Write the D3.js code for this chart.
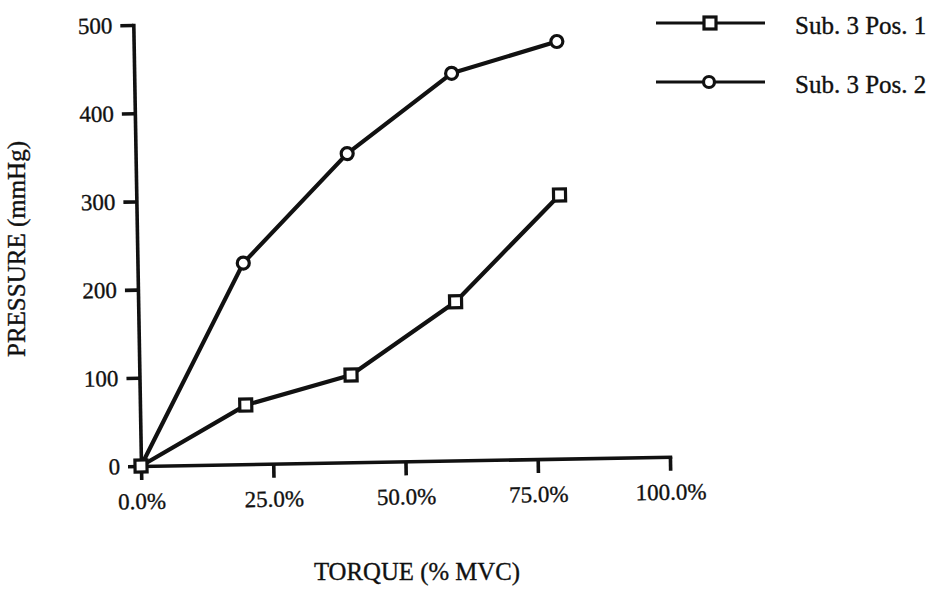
<!DOCTYPE html>
<html>
<head>
<meta charset="utf-8">
<script src="https://cdn.jsdelivr.net/npm/d3@7"></script>
<style>
  html, body { margin: 0; padding: 0; background: #fff; }
  svg { display: block; }
  text { font-family: "Liberation Serif", "Times New Roman", serif; fill: #111; stroke: #111; stroke-width: 0.35px; }
</style>
</head>
<body>
<svg id="chart" width="929" height="591"></svg>
<script>
// Torque (% MVC) at which each pressure reading was taken
const torquePct = [0, 20, 40, 60, 80];
// Pressure readings (mmHg) for each sensor position
const pos1 = [0, 67, 99, 180, 299];
const pos2 = [0, 228, 350, 439, 473];
const seriesNames = ["Sub. 3 Pos. 1", "Sub. 3 Pos. 2"];
const xTickValues = [0, 25, 50, 75, 100];
const xTickLabels = ["0.0%", "25.0%", "50.0%", "75.0%", "100.0%"];
const yTickValues = [0, 100, 200, 300, 400, 500];
const xTitle = "TORQUE (% MVC)";
const yTitle = "PRESSURE (mmHg)";

const svg = d3.select("#chart");
svg.append("rect").attr("width", 929).attr("height", 591).attr("fill", "#fff");

const plotW = 529, plotH = 441;
const x = d3.scaleLinear().domain([0, 100]).range([0, plotW]);
const y = d3.scaleLinear().domain([0, 500]).range([0, -plotH]);

// plot frame, tilted slightly as on the printed page
const g = svg.append("g").attr("transform", "translate(141,466) rotate(-1)");

// y axis
const yAxis = g.append("g")
  .call(d3.axisLeft(y).tickValues(yTickValues).tickSize(13).tickSizeOuter(0).tickPadding(8));
yAxis.select(".domain").attr("stroke", "#111").attr("stroke-width", 3.6).attr("stroke-linecap", "square");
yAxis.selectAll(".tick line").attr("stroke", "#111").attr("stroke-width", 3.6);
yAxis.selectAll(".tick text").attr("font-size", 23).attr("font-family", "Liberation Serif").attr("fill", "#111");

// x axis
const xAxis = g.append("g")
  .call(d3.axisBottom(x).tickValues(xTickValues).tickFormat((d, i) => xTickLabels[i])
    .tickSize(14).tickSizeOuter(0));
xAxis.select(".domain").attr("stroke", "#111").attr("stroke-width", 3.6).attr("stroke-linecap", "square");
xAxis.selectAll(".tick line").attr("stroke", "#111").attr("stroke-width", 3.6);
xAxis.selectAll(".tick text").attr("font-size", 23).attr("font-family", "Liberation Serif")
  .attr("fill", "#111").attr("y", 43).attr("dy", null);

const line = d3.line().x(d => x(d[0])).y(d => y(d[1]));
const seriesData = [pos1, pos2].map(vals => torquePct.map((t, i) => [t, vals[i]]));

seriesData.forEach(pts => {
  g.append("path").datum(pts).attr("d", line)
    .attr("fill", "none").attr("stroke", "#111").attr("stroke-width", 4.2).attr("stroke-linejoin", "round");
});

// markers: squares for position 1, circles for position 2
const sq = 12;
g.append("g").selectAll("rect").data(seriesData[0]).join("rect")
  .attr("x", d => x(d[0]) - sq / 2).attr("y", d => y(d[1]) - sq / 2)
  .attr("width", sq).attr("height", sq)
  .attr("fill", "#fff").attr("stroke", "#111").attr("stroke-width", 3.2);
g.append("g").selectAll("circle").data(seriesData[1].slice(1)).join("circle")
  .attr("cx", d => x(d[0])).attr("cy", d => y(d[1])).attr("r", 6)
  .attr("fill", "#fff").attr("stroke", "#111").attr("stroke-width", 3.2);

// axis titles
svg.append("text").attr("x", 417).attr("y", 580).attr("text-anchor", "middle")
  .attr("font-size", 24.8).text(xTitle);
svg.append("text").attr("transform", "translate(25,249) rotate(-90)").attr("text-anchor", "middle")
  .attr("font-size", 25).text(yTitle);

// legend
const legend = svg.append("g");
const legendY = [23, 82];
seriesNames.forEach((name, i) => {
  const row = legend.append("g").attr("transform", `translate(0,${legendY[i]})`);
  row.append("line").attr("x1", 656).attr("x2", 765).attr("y1", 0).attr("y2", 0)
    .attr("stroke", "#111").attr("stroke-width", 3.2);
  if (i === 0) {
    row.append("rect").attr("x", 710 - 6).attr("y", -6).attr("width", 12).attr("height", 12)
      .attr("fill", "#fff").attr("stroke", "#111").attr("stroke-width", 3.2);
  } else {
    row.append("circle").attr("cx", 709).attr("cy", 0).attr("r", 5.5)
      .attr("fill", "#fff").attr("stroke", "#111").attr("stroke-width", 3.2);
  }
  row.append("text").attr("x", 795).attr("y", 11).attr("font-size", 25).text(name);
});
</script>
</body>
</html>
